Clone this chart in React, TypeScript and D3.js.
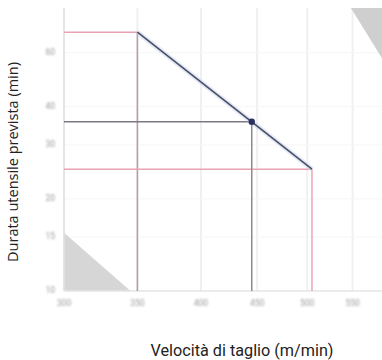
import * as React from 'react'
import * as d3 from 'd3'

// cutting speed (m/min) and expected tool life (min)
const xTicks = [300, 350, 400, 450, 500, 550]
const yTicks = [10, 15, 20, 30, 40, 60]
const speedRange = [350, 505]
const lifeRange = [70, 25]
const workPoint = { v: 445, t: 35.7 }
const lowZone = [[300, 15.5], [300, 10], [345, 10]]
const highZone = [[548, 84], [585, 84], [585, 57.6]]

export default function App() {
    const W = 382
    const H = 360
    const LEFT = 64
    const RIGHT = 382
    const TOP = 8
    const BOTTOM = 291

    const x = d3.scaleLog().domain([300, 585]).range([LEFT, RIGHT])
    const y = d3.scaleLog().domain([10, 84]).range([BOTTOM, TOP])

    const [vMin, vMax] = speedRange
    const [tMax, tMin] = lifeRange

    const curve = d3.line<number[]>().x(d => x(d[0])).y(d => y(d[1]))
    const toolLine = [[vMin, tMax], [vMax, tMin]]

    const zone = (pts: number[][]) => pts.map(p => `${x(p[0])},${y(p[1])}`).join(' ')

    return <svg width={W} height={H} style={{ position: 'absolute', left: 0, top: 0 }}>
        <defs>
            <filter id="soft" x="-20%" y="-50%" width="140%" height="200%">
                <feGaussianBlur stdDeviation="1.1" />
            </filter>
        </defs>
        <rect width={W} height={H} fill="#fff" />

        {/* faint grid */}
        {xTicks.map((t, i) =>
            <line key={'gx' + i} x1={x(t)} x2={x(t)} y1={TOP} y2={BOTTOM} stroke="#f0f0f0" strokeWidth={2} />
        )}
        {yTicks.map((t, i) =>
            <line key={'gy' + i} x1={LEFT} x2={RIGHT} y1={y(t)} y2={y(t)} stroke="#f6f6f6" strokeWidth={1} />
        )}

        <polygon points={zone(lowZone)} fill="#d6d6d6" />
        <polygon points={zone(highZone)} fill="#cfcfcf" />

        {/* axes */}
        <line x1={LEFT} x2={LEFT} y1={TOP} y2={BOTTOM} stroke="#e2e2e2" strokeWidth={1.5} />
        <line x1={LEFT} x2={RIGHT} y1={BOTTOM} y2={BOTTOM} stroke="#e6e6e6" strokeWidth={1.5} />

        {/* reference lines */}
        <line x1={LEFT} x2={x(vMin)} y1={y(tMax)} y2={y(tMax)} stroke="#e9a4b4" strokeWidth={1.5} />
        <line x1={x(vMin)} x2={x(vMin)} y1={y(tMax)} y2={BOTTOM} stroke="#b79aa2" strokeWidth={1.5} />
        <line x1={LEFT} x2={x(vMax)} y1={y(tMin)} y2={y(tMin)} stroke="#e9a4b4" strokeWidth={1.5} />
        <line x1={x(vMax)} x2={x(vMax)} y1={y(tMin)} y2={BOTTOM} stroke="#e7a7b6" strokeWidth={1.5} />
        <line x1={LEFT} x2={x(workPoint.v)} y1={y(workPoint.t)} y2={y(workPoint.t)} stroke="#7a7a80" strokeWidth={1.5} />
        <line x1={x(workPoint.v)} x2={x(workPoint.v)} y1={y(workPoint.t)} y2={BOTTOM} stroke="#8a8a90" strokeWidth={1.5} />

        <path d={curve(toolLine) || ''} fill="none" stroke="#c8d4ee" strokeWidth={5} opacity={0.5} />
        <path d={curve(toolLine) || ''} fill="none" stroke="#4a4f66" strokeWidth={1.6} />
        <circle cx={x(workPoint.v)} cy={y(workPoint.t)} r={3.2} fill="#2a3060" />

        {/* tick labels */}
        <g filter="url(#soft)" fontFamily="Roboto, sans-serif" fontSize={8.5} fill="#999">
            {xTicks.map((t, i) =>
                <text key={'tx' + i} x={x(t)} y={306} textAnchor="middle">{t}</text>
            )}
            {yTicks.map((t, i) =>
                <text key={'ty' + i} x={55} y={y(t)} textAnchor="end" dominantBaseline="middle">{t}</text>
            )}
        </g>

        <text x={242} y={356} textAnchor="middle" fontFamily="Roboto, sans-serif"
            fontSize={17} fill="#222" textLength={183} lengthAdjust="spacingAndGlyphs">Velocità di taglio (m/min)</text>
        <text transform={`translate(18 162) rotate(-90)`} textAnchor="middle" fontFamily="'Open Sans', sans-serif"
            fontSize={14.5} fill="#222">Durata utensile prevista (min)</text>
    </svg>
}
